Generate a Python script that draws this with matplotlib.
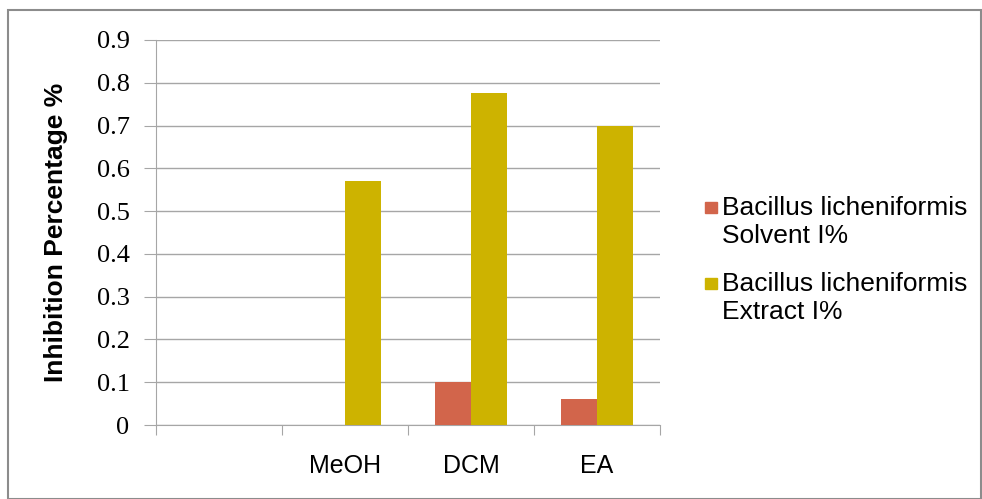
import numpy as np
import matplotlib
matplotlib.use("Agg")
import matplotlib.pyplot as plt
from matplotlib.patches import Rectangle

# data
categories = ["", "MeOH", "DCM", "EA"]
solvent = [0, 0, 0.10, 0.06]
extract = [0, 0.57, 0.775, 0.70]
series_names = ["Bacillus licheniformis\nSolvent I%", "Bacillus licheniformis\nExtract I%"]
yticks = [0, 0.1, 0.2, 0.3, 0.4, 0.5, 0.6, 0.7, 0.8, 0.9]

c_solvent = "#D2654B"
c_extract = "#CDB300"
grid_c = "#A6A6A6"

W, H = 982, 499
fig = plt.figure(figsize=(W / 100, H / 100), dpi=100)
# outer frame of the chart
fig.patches.append(Rectangle((8 / W, 0), 973 / W, 489 / H, transform=fig.transFigure,
                             fill=False, edgecolor="#8C8C8C", linewidth=1.5))

ax = fig.add_axes([156 / W, 1 - 425 / H, 504 / W, 385 / H])

x = np.arange(len(categories))
w = 0.285
ax.bar(x - w / 2, solvent, w, color=c_solvent, zorder=3)
ax.bar(x + w / 2, extract, w, color=c_extract, zorder=3)

ax.set_xlim(-0.5, len(categories) - 0.5)
ax.set_ylim(0, 0.9)
ax.set_yticks(yticks)
ax.set_yticklabels(["0"] + ["0.%d" % i for i in range(1, 10)],
                   fontfamily="Liberation Serif", fontsize=19)
ax.yaxis.grid(True, color=grid_c, linewidth=1, zorder=0)

# category ticks sit between groups, labels at group centres
ax.set_xticks(np.arange(len(categories) + 1) - 0.5)
ax.set_xticklabels([])
ax.set_xticks(x, minor=True)
ax.set_xticklabels(categories, minor=True, fontfamily="Liberation Sans", fontsize=18)
ax.tick_params(axis="x", which="minor", length=0, pad=21)
ax.tick_params(axis="x", which="major", length=7, color=grid_c)
ax.tick_params(axis="y", length=9, color=grid_c, pad=10)

for s in ["top", "right"]:
    ax.spines[s].set_visible(False)
for s in ["left", "bottom"]:
    ax.spines[s].set_color(grid_c)

ax.set_ylabel("Inhibition Percentage %", fontfamily="Liberation Sans", fontweight="bold",
              fontsize=19)
ax.yaxis.set_label_coords(-0.175, 0.5)

# legend: square aligned to the first line of each two-line label
for i, (name, col) in enumerate(zip(series_names, [c_solvent, c_extract])):
    top = 201 + i * 76
    fig.patches.append(Rectangle((705 / W, 1 - (top + 12) / H), 12 / W, 11 / H,
                                 transform=fig.transFigure, color=col))
    fig.text(722 / W, 1 - (top - 5) / H, name, fontfamily="Liberation Sans", fontsize=19,
             va="top", ha="left", linespacing=1.2)

fig.savefig("out.png", dpi=100)
